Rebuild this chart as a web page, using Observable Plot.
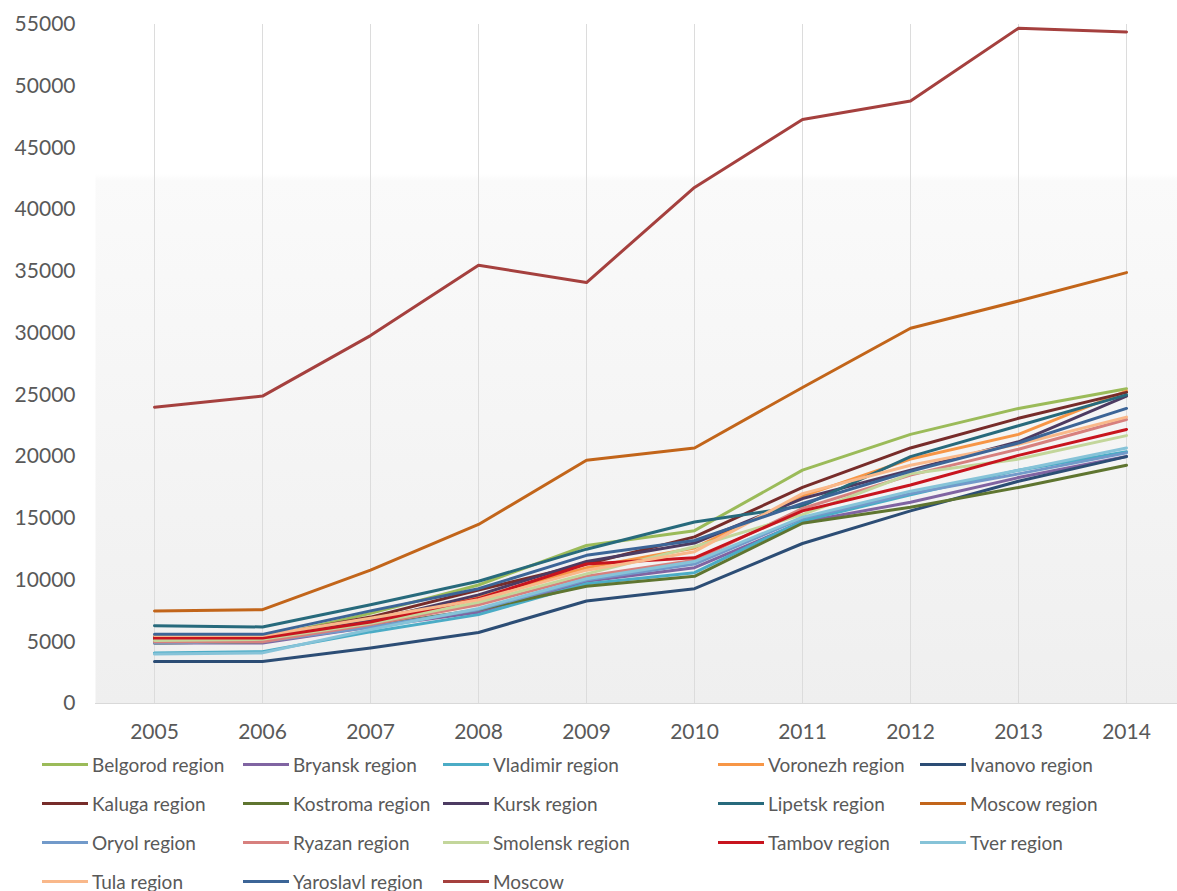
<!DOCTYPE html>
<html><head><meta charset="utf-8">
<script src="https://cdn.jsdelivr.net/npm/d3@7"></script>
<script src="https://cdn.jsdelivr.net/npm/@observablehq/plot@0.6"></script>
<style>
body{margin:0;background:#fff;font-family:Lato,sans-serif;}
#chart{position:relative;width:1177px;height:891px;overflow:hidden;background:#fff}
#legend{position:absolute;left:0;top:745px;width:1177px;height:146px}
.item{position:absolute;display:flex;align-items:center;height:24px;font-size:19px;color:#595959;white-space:nowrap}
.sw{width:46px;height:3px;margin-right:4px}
</style></head><body><div id="chart"><div id="plot"></div><div id="legend"></div></div>
<script>
const years = [2005, 2006, 2007, 2008, 2009, 2010, 2011, 2012, 2013, 2014];
const yTicks = [0, 5000, 10000, 15000, 20000, 25000, 30000, 35000, 40000, 45000, 50000, 55000];

const belgorod     = [5300, 5300, 7300, 9600, 12800, 14000, 18900, 21800, 23900, 25500];
const bryansk      = [4900, 4900, 6200, 7400, 9900, 11000, 14700, 16300, 18300, 20000];
const vladimir     = [4100, 4200, 5800, 7200, 9700, 10600, 14800, 16900, 18900, 20400];
const voronezh     = [5000, 5100, 6800, 8600, 11000, 12600, 16800, 19800, 21800, 25300];
const ivanovo      = [3400, 3400, 4500, 5750, 8300, 9300, 12960, 15600, 18000, 20000];
const kaluga       = [5400, 5400, 7000, 9200, 11300, 13500, 17500, 20700, 23100, 25200];
const kostroma     = [4900, 5000, 6300, 7600, 9500, 10300, 14600, 15900, 17500, 19300];
const kursk        = [5200, 5200, 6700, 8800, 11500, 13000, 16600, 18900, 21200, 24900];
const lipetsk      = [6300, 6200, 8000, 9900, 12500, 14700, 16000, 20000, 22500, 25000];
const moscowRegion = [7500, 7600, 10800, 14500, 19700, 20700, 25600, 30400, 32600, 34900];
const oryol        = [4900, 5000, 6200, 7600, 10000, 11300, 15000, 17000, 18600, 20300];
const ryazan       = [5000, 5000, 6400, 8000, 10300, 11600, 15800, 18500, 20600, 23000];
const smolensk     = [5100, 5200, 6500, 8200, 10500, 12700, 15300, 18600, 19800, 21700];
const tambov       = [5300, 5300, 6600, 8500, 11300, 11800, 15600, 17700, 20100, 22200];
const tver         = [4000, 4100, 6000, 7700, 10100, 11500, 15100, 17200, 18900, 20700];
const tula         = [5500, 5500, 6900, 8400, 10800, 12300, 17000, 19300, 21000, 23200];
const yaroslavl    = [5600, 5600, 7500, 9300, 12000, 13200, 16200, 18800, 21100, 23900];
const moscow       = [24000, 24900, 29800, 35500, 34100, 41800, 47300, 48800, 54700, 54400];

const seriesNames = ["Belgorod region","Bryansk region","Vladimir region","Voronezh region","Ivanovo region",
  "Kaluga region","Kostroma region","Kursk region","Lipetsk region","Moscow region",
  "Oryol region","Ryazan region","Smolensk region","Tambov region","Tver region",
  "Tula region","Yaroslavl region","Moscow"];
const seriesValues = [belgorod, bryansk, vladimir, voronezh, ivanovo, kaluga, kostroma, kursk, lipetsk, moscowRegion,
  oryol, ryazan, smolensk, tambov, tver, tula, yaroslavl, moscow];
const seriesColors = ["#9BBB59","#8064A2","#4BACC6","#F79646","#2C4D75",
  "#772C2A","#5F7530","#4D3B62","#276A7C","#C2651A",
  "#729ACA","#D7807E","#C3D69B","#C8141E","#86C3D8",
  "#F9B88A","#3C6597","#A5403E"];

const data = seriesNames.flatMap((name, i) => years.map((year, j) => ({series: name, year, value: seriesValues[i][j]})));

const defs = () => {
  const d = d3.create("svg:defs");
  const g = d.append("linearGradient").attr("id", "bg").attr("x1", 0).attr("y1", 0).attr("x2", 0).attr("y2", 1);
  g.append("stop").attr("offset", "0%").attr("stop-color", "#ffffff");
  g.append("stop").attr("offset", "22%").attr("stop-color", "#ffffff");
  g.append("stop").attr("offset", "23%").attr("stop-color", "#fafafa");
  g.append("stop").attr("offset", "100%").attr("stop-color", "#efefef");
  return d.node();
};

const plot = Plot.plot({
  width: 1177, height: 745,
  marginLeft: 95, marginRight: 0, marginTop: 24, marginBottom: 42,
  x: {type: "point", domain: years, range: [150, 1130], padding: 0, label: null},
  y: {domain: [0, 55000], label: null},
  color: {domain: seriesNames, range: seriesColors},
  style: {fontFamily: "Lato, sans-serif", fontSize: "21px", color: "#595959", background: "transparent", overflow: "visible"},
  marks: [
    defs,
    Plot.frame({fill: "url(#bg)", stroke: null}),
    Plot.ruleX(years, {x: d => d, stroke: "#dcdcdc", strokeWidth: 1}),
    Plot.ruleY([0], {stroke: "#d9d9d9", strokeWidth: 1}),
    Plot.axisY({ticks: yTicks, tickSize: 0, tickPadding: 20, tickFormat: d => String(d), fill: "#595959", fontSize: 21}),
    Plot.axisX({ticks: years, tickSize: 0, tickPadding: 21, tickFormat: d => String(d), fill: "#595959", fontSize: 21}),
    Plot.line(data, {x: "year", y: "value", z: "series", stroke: "series", strokeWidth: 3, strokeLinejoin: "round", strokeLinecap: "round"})
  ]
});
document.getElementById("plot").appendChild(plot);

const colLefts = [42, 243, 443, 718, 920];
const rowCenters = [19, 58, 97, 136];
const legend = document.getElementById("legend");
seriesNames.forEach((name, i) => {
  const item = document.createElement("div");
  item.className = "item";
  item.style.left = colLefts[i % 5] + "px";
  item.style.top = (rowCenters[Math.floor(i / 5)] - 12) + "px";
  const sw = document.createElement("span");
  sw.className = "sw";
  sw.style.background = seriesColors[i];
  const tx = document.createElement("span");
  tx.textContent = name;
  item.appendChild(sw); item.appendChild(tx);
  legend.appendChild(item);
});
</script></body></html>
